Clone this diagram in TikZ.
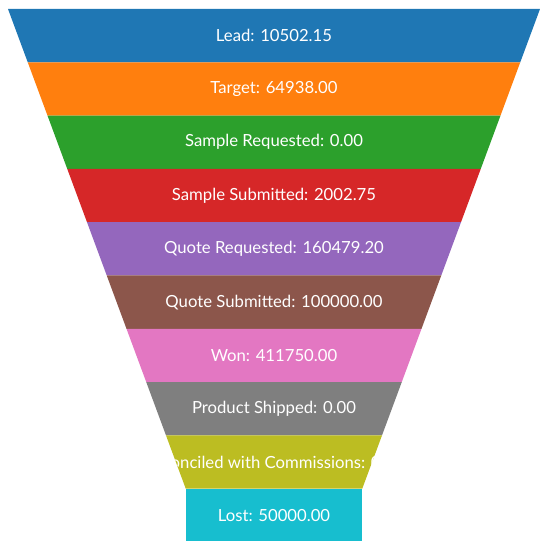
\documentclass[tikz,border=0pt]{standalone}
\usepackage{fontspec}
\setmainfont{Lato}
\usepackage{xcolor}
\definecolor{leadcol}{HTML}{1F77B4}
\definecolor{targetcol}{HTML}{FF7F0E}
\definecolor{sreqcol}{HTML}{2CA02C}
\definecolor{ssubcol}{HTML}{D62728}
\definecolor{qreqcol}{HTML}{9467BD}
\definecolor{qsubcol}{HTML}{8C564B}
\definecolor{woncol}{HTML}{E377C2}
\definecolor{shipcol}{HTML}{7F7F7F}
\definecolor{reccol}{HTML}{BCBD22}
\definecolor{lostcol}{HTML}{17BECF}
\newcommand\bandh{53.3}
\newcommand\midx{274}
\tikzstyle{stage}=[text=white,inner sep=0pt,font=\fontsize{16.7}{18}\selectfont]

\begin{document}
\begin{tikzpicture}[x=1pt,y=1pt]
	\useasboundingbox (0,0) rectangle (539,541);
	\foreach \i/\c/\t in {0/leadcol/{Lead: 10502.15},1/targetcol/{Target: 64938.00},
		2/sreqcol/{Sample Requested: 0.00},3/ssubcol/{Sample Submitted: 2002.75},
		4/qreqcol/{Quote Requested: 160479.20},5/qsubcol/{Quote Submitted: 100000.00},
		6/woncol/{Won: 411750.00},7/shipcol/{Product Shipped: 0.00},
		8/reccol/{Reconciled with Commissions: 0.00}}{
		\pgfmathsetmacro\yt{532-\bandh*\i}
		\pgfmathsetmacro\yb{\yt-\bandh}
		\pgfmathsetmacro\wt{266-19.75*\i}
		\pgfmathsetmacro\wb{\wt-19.75}
		\begin{scope}
			\fill[\c] (\midx-\wt,\yt) -- (\midx+\wt,\yt) -- (\midx+\wb,\yb) -- (\midx-\wb,\yb) -- cycle;
			\clip (\midx-\wt,\yt) -- (\midx+\wt,\yt) -- (\midx+\wb,\yb) -- (\midx-\wb,\yb) -- cycle;
			\node[stage] (s\i) at (\midx,\yt-\bandh/2) {\t};
		\end{scope}
	}
	\fill[lostcol] (186,52.3) rectangle (362,-1);
	\node[stage] (s9) at (\midx,52.3-\bandh/2) {Lost: 50000.00};
\end{tikzpicture}
\end{document}
